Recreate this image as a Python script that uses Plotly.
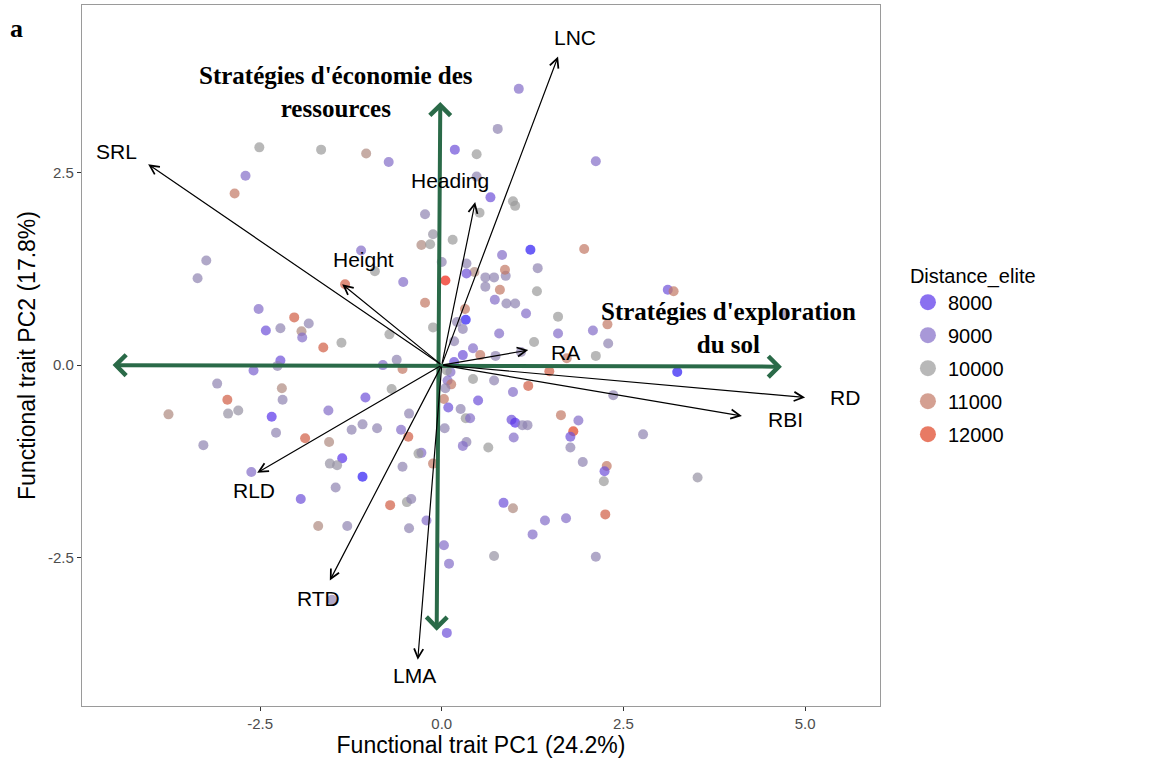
import plotly.graph_objects as go

# ---------------- data ----------------
pc1 = [
    -2.51, -1.66, -2.70, -2.85, 1.06, 0.77, -1.04, -0.73, 0.18, 0.48,
    2.12, 0.48, 0.67, 0.98, 1.01, 0.52, -0.23, -0.12, 0.15, -0.28,
    -0.16, -1.11, 0.00, 0.34, -0.92, 0.45, 0.34, 0.60, 0.72, 0.88,
    0.87, 0.83, 1.22, 1.32, 1.96, -0.53, 0.05, -1.33, 0.60, 0.80,
    1.31, 0.73, 0.89, 1.01, -0.23, 0.32, 1.16, 1.60, 0.33, 0.21,
    -0.12, 0.29, 2.08, 2.28, 0.79, 1.60, -0.72, -1.38, 0.17, 1.27,
    2.29, 0.43, 0.29, 0.53, 0.74, 1.09, 1.72, 2.12, -0.62, -0.81,
    -0.54, 0.17, 0.12, 0.07, 1.48, 0.43, 0.72, 0.08, 0.13, 0.05,
    -0.69, 1.19, 0.98, -1.05, 0.03, 0.50, 0.09, 0.26, 1.64, 1.88,
    -0.45, 0.33, 0.39, 0.96, 1.01, 1.11, 1.18, 1.81, 1.77, -1.24,
    -1.09, -0.89, -0.56, 0.04, -0.46, 0.99, 0.34, 0.29, 0.64, 1.77,
    -0.28, -0.32, -1.37, -1.09, -0.54, -0.12, 1.94, 2.27, -0.71, -0.48,
    -0.42, -0.21, -1.30, -0.45, 0.03, 0.10, 0.07, 0.85, 0.98, 1.42,
    1.71, 1.25, 0.72, 2.12, 2.23, 2.24, 2.25, 3.52, 3.11, 3.19,
    3.24, 2.36, 2.77, 4.72, -3.24, -3.36, -2.52, -2.03, -1.83, -2.42,
    -2.22, -1.93, -1.92, -1.63, -2.22, -2.26, -2.59, -3.09, -2.20, -2.95,
    -2.19, -3.76, -2.94, -2.80, -2.34, -1.56, -2.28, -1.88, -1.55, -3.28,
    -1.54, -1.44, -2.62, -1.94, -1.46, -1.70, -1.51,
]
pc2 = [
    2.83, 2.80, 2.46, 2.23, 3.59, 3.07, 2.75, 2.64, 2.80, 2.74,
    2.65, 2.45, 2.18, 2.13, 2.07, 1.98, 1.96, 1.70, 1.63, 1.56,
    1.57, 1.49, 1.34, 1.32, 1.22, 1.21, 1.19, 1.14, 1.14, 1.16,
    1.24, 1.43, 1.50, 1.26, 1.51, 1.08, 1.10, 1.05, 1.02, 0.98,
    0.96, 0.85, 0.80, 0.80, 0.81, 0.73, 0.67, 0.63, 0.59, 0.56,
    0.49, 0.47, 0.45, 0.53, 0.41, 0.41, 0.40, 0.29, 0.31, 0.30,
    0.28, 0.22, 0.13, 0.13, 0.12, 0.17, 0.09, 0.12, 0.07, 0.00,
    -0.05, 0.04, -0.09, -0.07, -0.08, -0.18, -0.20, -0.20, -0.25, -0.30,
    -0.31, -0.27, -0.35, -0.42, -0.44, -0.46, -0.55, -0.57, -0.65, -0.72,
    -0.63, -0.69, -0.69, -0.71, -0.75, -0.78, -0.78, -0.86, -0.93, -0.84,
    -0.77, -0.82, -0.84, -0.82, -0.93, -0.94, -1.00, -1.05, -1.07, -1.07,
    -1.14, -1.15, -1.21, -1.45, -1.32, -1.28, -1.26, -1.31, -1.82, -1.78,
    -1.74, -2.02, -2.09, -2.12, -2.34, -2.58, -3.48, -1.79, -1.86, -2.02,
    -1.99, -2.20, -2.48, -2.49, -1.51, -1.38, -1.94, -1.46, 0.98, 0.96,
    -0.09, -0.39, -0.90, 0.66, 1.36, 1.13, 0.73, 0.62, 0.54, 0.45,
    0.48, 0.44, 0.36, 0.23, 0.06, -0.01, -0.07, -0.24, -0.30, -0.45,
    -0.45, -0.64, -0.63, -0.59, -0.67, -0.59, -0.88, -0.95, -1.00, -1.04,
    -1.28, -1.30, -1.39, -1.74, -1.59, -2.09, -3.05,
]
distance_elite = [
    10000, 10000, 9000, 11000, 9000, 9500, 10500, 9000, 8500, 10000,
    9000, 9500, 8500, 10000, 10000, 10000, 9500, 9800, 10000, 10500,
    10000, 9000, 9500, 9500, 10000, 10500, 8500, 9500, 9500, 9500,
    11000, 9000, 7500, 9500, 11000, 9000, 12500, 11500, 9500, 11000,
    10000, 9000, 9500, 9500, 11000, 11000, 9000, 10000, 7500, 9500,
    10000, 9500, 9000, 11000, 9000, 9000, 10000, 10000, 9500, 10000,
    9500, 9000, 8500, 11000, 9500, 9500, 11000, 10000, 9500, 9000,
    11000, 8500, 9000, 10000, 11500, 10000, 9500, 9000, 11000, 9500,
    10000, 11500, 9000, 8500, 11000, 8500, 8500, 9500, 11000, 9000,
    9500, 10000, 9000, 8500, 8000, 9500, 9500, 12000, 8500, 9500,
    9500, 9500, 9000, 9500, 11500, 9000, 9500, 9000, 10000, 9500,
    9000, 10000, 8000, 7500, 9500, 11000, 9500, 11000, 11500, 10000,
    9500, 9000, 9500, 9500, 9000, 9000, 8500, 8500, 10500, 9000,
    9000, 9000, 9800, 9500, 10000, 8500, 11500, 9800, 8500, 11000,
    7500, 9500, 9500, 9500, 9500, 9500, 9000, 11500, 9500, 8500,
    9500, 10500, 9000, 11500, 8500, 9500, 8800, 9500, 10500, 11500,
    9500, 10500, 9800, 9800, 8000, 9000, 9500, 11500, 10500, 9500,
    9800, 9800, 9000, 8500, 9500, 10500, 9500,
]

# trait loadings (arrow tips) and label positions
traits = ["LNC", "Heading", "SRL", "Height", "RA", "RD", "RBI", "RLD", "RTD", "LMA"]
trait_x = [1.60, 0.46, -4.04, -1.37, 1.19, 5.00, 4.13, -2.54, -1.54, -0.33]
trait_y = [4.01, 2.12, 2.61, 1.05, 0.195, -0.42, -0.66, -1.40, -2.80, -3.83]
label_x = [1.84, 0.11, -4.47, -1.08, 1.70, 5.55, 4.73, -2.58, -1.69, -0.38]
label_y = [4.26, 2.40, 2.77, 1.37, 0.17, -0.42, -0.71, -1.63, -3.03, -4.04]

# strategy axes (double-headed green arrows): start / end
strategy_h = [(-4.55, 0.0), (4.68, -0.02)]
strategy_v = [(-0.07, -3.47), (-0.02, 3.42)]
strategy_titles = ["Stratégies d'économie des<br>ressources", "Stratégies d'exploration<br>du sol"]
strategy_pos = [(-1.45, 3.55), (3.94, 0.48)]

legend_levels = [8000, 9000, 10000, 11000, 12000]
cmin, cmax = 7000, 13000

colorscale = [
    [0.0, "#0000ff"],
    [1 / 6, "#5833e9"],
    [2 / 6, "#836cc7"],
    [3 / 6, "#9a9a9a"],
    [4 / 6, "#c27864"],
    [5 / 6, "#de4122"],
    [1.0, "#ff0000"],
]


def hex_to_rgb(h):
    h = h.lstrip("#")
    return tuple(int(h[i:i + 2], 16) for i in (0, 2, 4))


def scale_color(v):
    t = (v - cmin) / (cmax - cmin)
    for (t0, c0), (t1, c1) in zip(colorscale[:-1], colorscale[1:]):
        if t0 <= t <= t1:
            f = (t - t0) / (t1 - t0) if t1 > t0 else 0
            a, b = hex_to_rgb(c0), hex_to_rgb(c1)
            return "rgb(%d,%d,%d)" % tuple(round(a[i] + f * (b[i] - a[i])) for i in range(3))
    return colorscale[-1][1]


GREEN = "#2a6a48"
ALPHA = 0.7
SANS = "Liberation Sans, Arial"
SERIF = "Liberation Serif, Times New Roman"

fig = go.Figure()

fig.add_trace(go.Scatter(
    x=pc1, y=pc2, mode="markers", showlegend=False,
    marker=dict(size=10, color=distance_elite, colorscale=colorscale,
                cmin=cmin, cmax=cmax, opacity=ALPHA, line=dict(width=0)),
    hovertemplate="PC1 %{x}<br>PC2 %{y}<br>Distance_elite %{marker.color}<extra></extra>",
))

for lev in legend_levels:
    fig.add_trace(go.Scatter(
        x=[None], y=[None], mode="markers", name=str(lev),
        legendgroup=str(lev),
        marker=dict(size=16, color=scale_color(lev), opacity=ALPHA),
    ))

annotations = []
# green strategy arrows
for (x0, y0), (x1, y1) in [strategy_h, strategy_v]:
    annotations.append(dict(
        x=x1, y=y1, ax=x0, ay=y0, xref="x", yref="y", axref="x", ayref="y",
        text="", showarrow=True, arrowhead=4, startarrowhead=4, arrowside="end+start",
        arrowsize=1.0, startarrowsize=1.0, arrowwidth=4, arrowcolor=GREEN,
        standoff=0, startstandoff=0,
    ))
# black trait arrows
for name, tx, ty in zip(traits, trait_x, trait_y):
    annotations.append(dict(
        x=tx, y=ty, ax=0, ay=0, xref="x", yref="y", axref="x", ayref="y",
        text="", showarrow=True, arrowhead=5, arrowsize=1.5, arrowwidth=1.2,
        arrowcolor="black", standoff=0,
    ))
for name, lx, ly in zip(traits, label_x, label_y):
    annotations.append(dict(
        x=lx, y=ly, xref="x", yref="y", text=name, showarrow=False,
        font=dict(family=SANS, size=21, color="black"),
        xanchor="center", yanchor="middle",
    ))
for title, (sx, sy) in zip(strategy_titles, strategy_pos):
    annotations.append(dict(
        x=sx, y=sy, xref="x", yref="y", text="<b>" + title + "</b>", showarrow=False,
        font=dict(family=SERIF, size=25, color="black"),
        xanchor="center", yanchor="middle", align="center",
    ))
annotations.append(dict(
    x=-0.093, y=0.967, xref="paper", yref="paper", text="<b>a</b>", showarrow=False,
    font=dict(family=SERIF, size=26, color="black"),
    xanchor="left", yanchor="middle",
))

axis_common = dict(
    showgrid=False, zeroline=False, showline=True, mirror=True,
    linecolor="#9a9a9a", linewidth=1.2, ticks="outside", ticklen=4,
    tickcolor="#333333", tickwidth=1,
    tickfont=dict(family=SANS, size=15, color="#4d4d4d"),
)

fig.update_layout(
    width=1151, height=763,
    margin=dict(l=82, r=271, t=5, b=57, autoexpand=False),
    paper_bgcolor="white", plot_bgcolor="white",
    xaxis=dict(range=[-4.95, 6.03], tickvals=[-2.5, 0, 2.5, 5.0],
               ticktext=["-2.5", "0.0", "2.5", "5.0"],
               title=dict(text="Functional trait PC1 (24.2%)", standoff=3,
                          font=dict(family=SANS, size=23, color="black")),
               **axis_common),
    yaxis=dict(range=[-4.43, 4.68], tickvals=[-2.5, 0, 2.5],
               ticktext=["-2.5", "0.0", "2.5"],
               title=dict(text="Functional trait PC2 (17.8%)", standoff=5,
                          font=dict(family=SANS, size=23, color="black")),
               **axis_common),
    legend=dict(
        title=dict(text="Distance_elite", font=dict(family=SANS, size=20, color="black")),
        font=dict(family=SANS, size=20, color="black"),
        x=1.035, xanchor="left", y=0.641, yanchor="top",
        traceorder="grouped", tracegroupgap=4, itemsizing="trace",
        bgcolor="rgba(0,0,0,0)",
    ),
    annotations=annotations,
)

fig.write_html("out.html", config={"displayModeBar": False},
               post_script="document.body.style.margin='0';")
